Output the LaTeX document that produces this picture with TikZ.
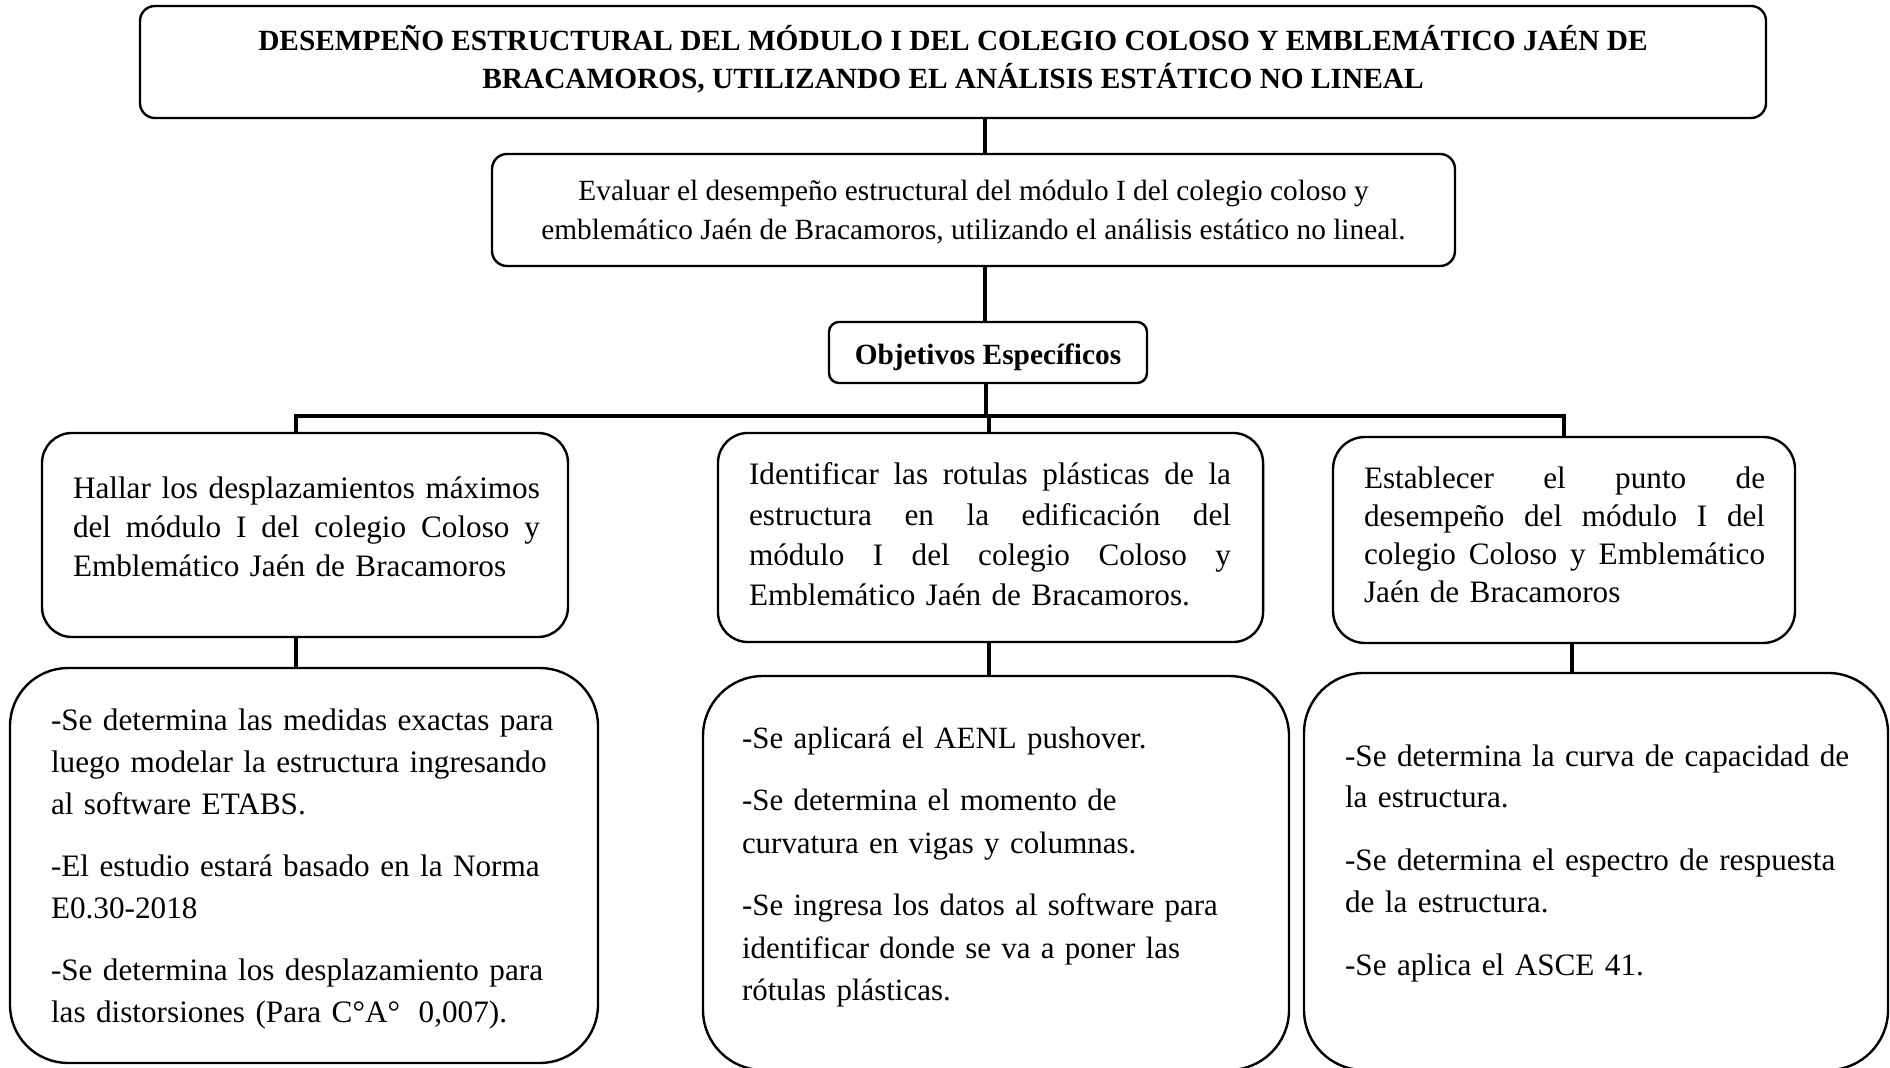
\documentclass[tikz,border=0pt]{standalone}
\usepackage{fontspec}
\setmainfont{Liberation Serif}
\setlength{\parindent}{0pt}
\newcommand\jl[2]{\leavevmode\hbox to #1{#2}}
\newcommand\topstrut{\rule{0pt}{12pt}}
\begin{document}
\begin{tikzpicture}[x=0.375pt,y=-0.375pt,
  frame/.style={draw, line width=0.9pt, inner sep=0pt, outer sep=0pt},
  conn/.style={draw, line width=1.2pt, line join=miter},
  txt/.style={inner sep=0pt, outer sep=0pt, anchor=north west, align=left},
]
\useasboundingbox (0,0) rectangle (1890,1068);

% boxes
\node[frame, rounded corners=5.6pt, minimum width=609.75pt, minimum height=42pt] (title) at (953,62) {};
\node[frame, rounded corners=5.6pt, minimum width=361.1pt, minimum height=42pt] (box2) at (973.5,210) {};
\node[frame, rounded corners=3.75pt, minimum width=119.25pt, minimum height=22.9pt] (obj) at (988,352.5) {};
\node[frame, rounded corners=11.25pt, minimum width=197.25pt, minimum height=76.5pt] (l1) at (305,535) {};
\node[frame, rounded corners=11.25pt, minimum width=204.4pt, minimum height=78.4pt] (m1) at (990.5,537.5) {};
\node[frame, rounded corners=12pt, minimum width=173.25pt, minimum height=77.25pt] (r1) at (1564,540) {};
\node[frame, rounded corners=21.75pt, minimum width=220.5pt, minimum height=148.1pt] (l2) at (304,865.5) {};
\node[frame, rounded corners=22.5pt, minimum width=219.75pt, minimum height=147.75pt] (m2) at (996,873) {};
\node[frame, rounded corners=22.5pt, minimum width=219pt, minimum height=148.9pt] (r2) at (1596,871.5) {};

% texts
\node[txt, anchor=north, align=center, font=\fontsize{11}{14.25}\selectfont\bfseries] (titletext) at (953,18.2)
  {\topstrut DESEMPEÑO ESTRUCTURAL DEL MÓDULO I DEL COLEGIO COLOSO Y EMBLEMÁTICO JAÉN DE\\BRACAMOROS, UTILIZANDO EL ANÁLISIS ESTÁTICO NO LINEAL};
\node[txt, anchor=north, align=center, font=\fontsize{11}{14.6}\selectfont] (box2text) at (973.5,168.2)
  {\topstrut Evaluar el desempeño estructural del módulo I del colegio coloso y\\emblemático Jaén de Bracamoros, utilizando el análisis estático no lineal.};
\node[inner sep=0pt, anchor=base, font=\fontsize{11}{13}\selectfont\bfseries] (objtext) at (988,364.5) {Objetivos Específicos};

\node[txt, text width=176pt, font=\fontsize{11.7}{14.6}\selectfont] (l1text) at (73,467)
  {\topstrut\jl{175.1pt}{Hallar \hfill los \hfill desplazamientos \hfill máximos}\\\jl{175.1pt}{del \hfill módulo \hfill I \hfill del \hfill colegio \hfill Coloso \hfill y}\\Emblemático Jaén de Bracamoros};
\node[txt, text width=182pt, font=\fontsize{11.7}{15.1}\selectfont] (m1text) at (749,453)
  {\topstrut\jl{180.75pt}{Identificar \hfill las \hfill rotulas \hfill plásticas \hfill de \hfill la}\\\jl{180.75pt}{estructura \hfill en \hfill la \hfill edificación \hfill del}\\\jl{180.75pt}{módulo \hfill I \hfill del \hfill colegio \hfill Coloso \hfill y}\\Emblemático Jaén de Bracamoros.};
\node[txt, text width=152pt, font=\fontsize{11.7}{14.2}\selectfont] (r1text) at (1364,457)
  {\topstrut\jl{150.4pt}{Establecer \hfill el \hfill punto \hfill de}\\\jl{150.4pt}{desempeño \hfill del \hfill módulo \hfill I \hfill del}\\\jl{150.4pt}{colegio \hfill Coloso \hfill y \hfill Emblemático}\\Jaén de Bracamoros};

\node[txt, text width=205pt, font=\fontsize{11.7}{15.8}\selectfont] (l2text) at (51,698)
  {\topstrut -Se determina las medidas exactas para\\luego modelar la estructura ingresando\\al software ETABS.\\[7.5pt]-El estudio estará basado en la Norma\\E0.30-2018\\[7.5pt]-Se determina los desplazamiento para\\las distorsiones (Para C°A°\hspace{7pt}0,007).};
\node[txt, text width=205pt, font=\fontsize{11.6}{16}\selectfont] (m2text) at (742,716)
  {\topstrut -Se aplicará el AENL pushover.\\[7.4pt]-Se determina el momento de\\curvatura en vigas y columnas.\\[7.4pt]-Se ingresa los datos al software para\\identificar donde se va a poner las\\rótulas plásticas.};
\node[txt, text width=205pt, font=\fontsize{11.7}{15.6}\selectfont] (r2text) at (1345,734)
  {\topstrut -Se determina la curva de capacidad de\\la estructura.\\[8pt]-Se determina el espectro de respuesta\\de la estructura.\\[8pt]-Se aplica el ASCE 41.};

% connectors
\coordinate (sx) at (985,0);
\coordinate (bl) at (296,416);
\coordinate (br) at (1564,416);
\coordinate (bm) at (986,416);
\coordinate (mx) at (989,416);
\coordinate (rx) at (1572,0);
\draw[conn] (title.south -| sx) -- (box2.north -| sx);
\draw[conn] (box2.south -| sx) -- (obj.north -| sx);
\draw[conn] (obj.south -| bm) -- (bm);
\draw[conn] (l1.north -| bl) -- (bl) -- (br) -- (r1.north -| br);
\draw[conn] (mx) -- (m1.north -| mx);
\draw[conn] (l1.south -| bl) -- (l2.north -| bl);
\draw[conn] (m1.south -| mx) -- (m2.north -| mx);
\draw[conn] (r1.south -| rx) -- (r2.north -| rx);
\end{tikzpicture}
\end{document}
